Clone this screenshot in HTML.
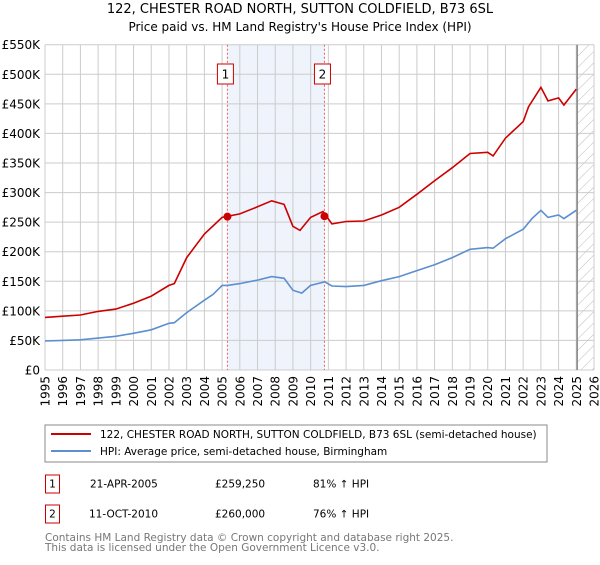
<!DOCTYPE html>
<html><head><meta charset="utf-8"><style>
body{margin:0;background:#fff;font-family:"Liberation Sans","DejaVu Sans",sans-serif;}
svg text{font-family:"DejaVu Sans","Liberation Sans",sans-serif;}
</style></head><body>
<svg id="c" width="600" height="560" viewBox="0 0 600 560" xmlns="http://www.w3.org/2000/svg">
<defs><pattern id="hatch" width="8" height="8" patternUnits="userSpaceOnUse" patternTransform="rotate(45)"><line x1="0" y1="0" x2="0" y2="8" stroke="#bbb" stroke-width="1"/></pattern></defs>
<text x="300" y="13" text-anchor="middle" font-size="13" fill="#000">122, CHESTER ROAD NORTH, SUTTON COLDFIELD, B73 6SL</text>
<text x="300" y="31" text-anchor="middle" font-size="12" fill="#000">Price paid vs. HM Land Registry's House Price Index (HPI)</text>
<g id="plot"></g>
<rect x="45" y="425" width="502" height="37" fill="#fff" stroke="#888"/>
<line x1="51" y1="434" x2="91" y2="434" stroke="#cc0000" stroke-width="2"/>
<text x="100" y="438" font-size="10.5">122, CHESTER ROAD NORTH, SUTTON COLDFIELD, B73 6SL (semi-detached house)</text>
<line x1="51" y1="451" x2="91" y2="451" stroke="#5b8fd0" stroke-width="2"/>
<text x="100" y="455" font-size="10.5">HPI: Average price, semi-detached house, Birmingham</text>
<rect x="45.5" y="475" width="14" height="18" fill="#fff" stroke="#cc0000"/>
<text x="52.5" y="487.5" font-size="10.5" text-anchor="middle">1</text>
<text x="90" y="487.5" font-size="10.5">21-APR-2005</text>
<text x="215" y="487.5" font-size="10.5">£259,250</text>
<text x="313" y="487.5" font-size="10.5">81% ↑ HPI</text>
<rect x="45.5" y="505" width="14" height="18" fill="#fff" stroke="#cc0000"/>
<text x="52.5" y="517.5" font-size="10.5" text-anchor="middle">2</text>
<text x="89" y="517.5" font-size="10.5">11-OCT-2010</text>
<text x="215" y="517.5" font-size="10.5">£260,000</text>
<text x="313" y="517.5" font-size="10.5">76% ↑ HPI</text>
<text x="45" y="541" font-size="10.5" fill="#777">Contains HM Land Registry data © Crown copyright and database right 2025.</text>
<text x="45" y="551" font-size="10.5" fill="#777">This data is licensed under the Open Government Licence v3.0.</text>
</svg>
<script>
const yTicks=[0,50,100,150,200,250,300,350,400,450,500,550];
const yTickLabels=["£0","£50K","£100K","£150K","£200K","£250K","£300K","£350K","£400K","£450K","£500K","£550K"];
const xYears=[1995,1996,1997,1998,1999,2000,2001,2002,2003,2004,2005,2006,2007,2008,2009,2010,2011,2012,2013,2014,2015,2016,2017,2018,2019,2020,2021,2022,2023,2024,2025,2026];
const hpiT=[1995,1996,1997,1998,1999,2000,2001,2002,2002.3,2003,2004,2004.5,2005,2005.3,2006,2007,2007.8,2008.5,2009,2009.5,2010,2010.8,2011.2,2012,2013,2014,2015,2016,2017,2018,2019,2020,2020.3,2021,2022,2022.5,2023,2023.4,2024,2024.3,2025];
const hpiV=[49,50,51,54,57,62,68,79,80,97,118,128,143,143,146,152,158,155,135,130,143,149,142,141,143,151,158,168,178,190,204,207,206,222,238,256,270,258,262,256,270];
const propT=[1995,1996,1997,1998,1999,2000,2001,2002,2002.3,2003,2004,2005,2006,2007,2007.8,2008.5,2009,2009.4,2010,2010.7,2011.2,2012,2013,2014,2015,2016,2017,2018,2019,2020,2020.3,2021,2022,2022.3,2023,2023.4,2024,2024.3,2025];
const propV=[89,91,93,99,103,113,125,143,146,190,230,258,264,276,286,280,243,236,258,268,247,251,252,262,275,297,320,342,366,368,362,392,420,445,478,455,460,448,475];
const saleT=[2005.3,2010.78];
const saleV=[259.25,260];
const saleLabels=["1","2"];
const X0=45,X1=594,Y0=370,Y1=44.7;
const xs=t=>X0+(t-1995)/(2026-1995)*(X1-X0);
const ys=v=>Y0-v/550*(Y0-Y1);
const NS="http://www.w3.org/2000/svg";
const g=document.getElementById('plot');
function mk(tag,attrs){const e=document.createElementNS(NS,tag);for(const k in attrs)e.setAttribute(k,attrs[k]);g.appendChild(e);return e;}
let e=mk('rect',{x:xs(saleT[0]),y:Y1,width:xs(saleT[1])-xs(saleT[0]),height:Y0-Y1,fill:'#eef3fc'});


e=mk('rect',{x:xs(2025.05),y:Y1,width:X1-xs(2025.05),height:Y0-Y1,fill:'url(#hatch)'});


yTicks.forEach((v,i)=>{
 let l=mk('line',{x1:X0,x2:X1,y1:ys(v),y2:ys(v),stroke:'#ccc'});
 
 
 let t=mk('text',{x:X0-5,y:ys(v)+4.5,'text-anchor':'end','font-size':'12'});t.textContent=yTickLabels[i];
 
 
});
xYears.forEach(y=>{
 let l=mk('line',{x1:xs(y),x2:xs(y),y1:Y1,y2:Y0,stroke:'#ccc'});
 
 
 let t=mk('text',{x:0,y:0,'text-anchor':'end','font-size':'12',transform:`translate(${xs(y)+4.5},${Y0+6}) rotate(-90)`});t.textContent=y;
 
 
});
e=mk('line',{x1:xs(2025.05),x2:xs(2025.05),y1:Y1,y2:Y0,stroke:'#888','stroke-width':1.5});


saleT.forEach((t,i)=>{
 let l=mk('line',{x1:xs(t),x2:xs(t),y1:Y1,y2:Y0,stroke:'#f06060','stroke-dasharray':'2,2'});
 
 
 let r=mk('rect',{x:xs(t)-10,y:64,width:16,height:20,fill:'#fff',stroke:'#cc0000'});
 
 
 let tx=mk('text',{x:xs(t)-2,y:78.5,'text-anchor':'middle','font-size':'12'});tx.textContent=saleLabels[i];
 
 
});
function path(T,V,c,name){const d=T.map((t,i)=>(i?'L':'M')+xs(t).toFixed(1)+','+ys(V[i]).toFixed(1)).join('');
 const p=mk('path',{d:d,fill:'none',stroke:c,'stroke-width':1.6});
 
 }
path(hpiT,hpiV,'#5b8fd0','hpi-line');
path(propT,propV,'#cc0000','property-line');
saleT.forEach((t,i)=>{const c=mk('circle',{cx:xs(t),cy:ys(saleV[i]),r:4,fill:'#cc0000'});
 
 });
</script>
</body></html>
